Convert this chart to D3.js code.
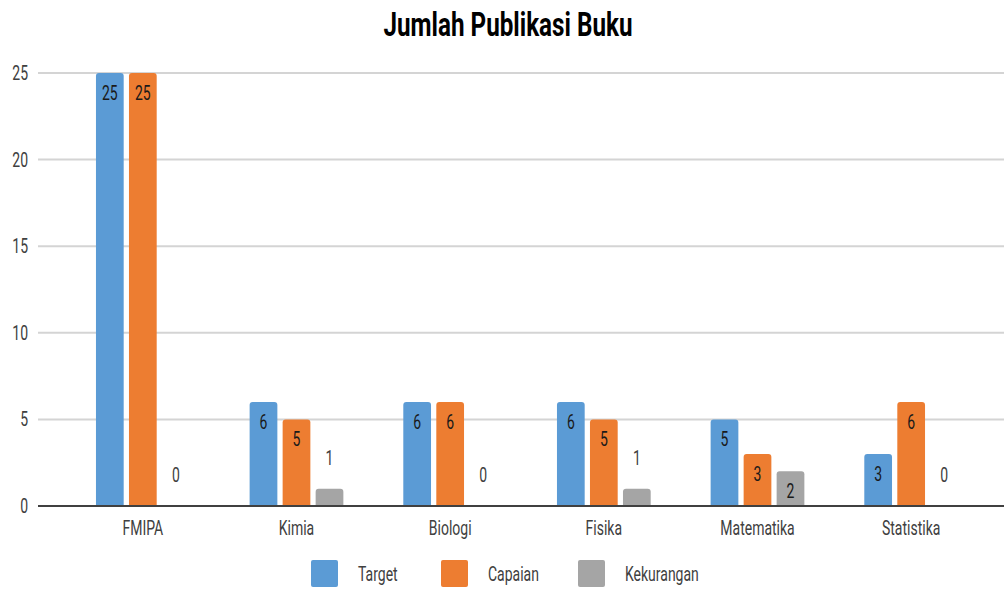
<!DOCTYPE html>
<head>
  <meta charset="utf-8">
  <script src="https://cdn.jsdelivr.net/npm/d3@7"></script>
  <style>
    body { margin:0; background:#fff; }
    text { font-family: Roboto, "DejaVu Sans", sans-serif; }
  </style>
</head>
<body>
<script>
var categories = ["FMIPA", "Kimia", "Biologi", "Fisika", "Matematika", "Statistika"];
var series = ["Target", "Capaian", "Kekurangan"];
var target = [25, 6, 6, 6, 5, 3];
var capaian = [25, 5, 6, 5, 3, 6];
var kekurangan = [0, 1, 0, 1, 2, 0];
var yTicks = [0, 5, 10, 15, 20, 25];
var colors = ["#5b9bd5", "#ed7d31", "#a5a5a5"];

var width = 1004, height = 590;
var svg = d3.select("body").append("svg")
    .attr("width", width).attr("height", height);

var values = [target, capaian, kekurangan];
var squeeze = 0.7;

// narrow text helper (the original uses a condensed face)
function ntext(parent, x, y, str, size, fill, anchor) {
  return parent.append("text")
    .attr("transform", "translate(" + x + "," + y + ") scale(" + squeeze + ",1)")
    .attr("text-anchor", anchor || "middle")
    .attr("font-size", size).attr("fill", fill).text(str);
}

var x = d3.scaleBand().domain(categories).range([66, 988]).paddingInner(0.39).paddingOuter(0.195);
var xs = d3.scaleBand().domain(series).range([0, x.bandwidth()]).paddingInner(0.16);
var y = d3.scaleLinear().domain([0, 25]).range([506, 73]);

// title
var title = svg.append("text")
  .attr("text-anchor", "middle").attr("font-size", 34).attr("font-weight", "bold")
  .attr("fill", "#000").text("Jumlah Publikasi Buku");
var tw = title.node().getComputedTextLength();
title.attr("transform", "translate(508,36) scale(" + (249 / tw) + ",1)");

// grid
svg.selectAll(".grid").data(yTicks.slice(1)).enter().append("line")
  .attr("x1", 38).attr("x2", 1004)
  .attr("y1", d => y(d)).attr("y2", d => y(d))
  .attr("stroke", "#d4d4d4").attr("stroke-width", 2);

yTicks.forEach(function(t) {
  ntext(svg, 28, y(t) + 7, t, 20, "#404040", "end");
});

// bars
function barPath(x0, w, y0, y1) {
  if (y1 - y0 <= 0) return "";
  var r = Math.min(3, (y1 - y0) / 2);
  return "M" + x0 + "," + y1 + "V" + (y0 + r) + "Q" + x0 + "," + y0 + " " + (x0 + r) + "," + y0 +
    "H" + (x0 + w - r) + "Q" + (x0 + w) + "," + y0 + " " + (x0 + w) + "," + (y0 + r) + "V" + y1 + "Z";
}

categories.forEach(function(c, i) {
  var g = svg.append("g").attr("transform", "translate(" + x(c) + ",0)");
  series.forEach(function(s, si) {
    var v = values[si][i];
    g.append("path")
      .attr("d", barPath(xs(s), xs.bandwidth(), y(v), y(0)))
      .attr("fill", colors[si]);
    var inside = v >= 2;
    ntext(g, xs(s) + xs.bandwidth() / 2, inside ? y(v) + 27 : y(v) - 24, v, 20,
      inside ? "#1a1a1a" : "#404040");
  });
});

// zero axis
svg.append("line").attr("x1", 38).attr("x2", 1004)
  .attr("y1", y(0)).attr("y2", y(0))
  .attr("stroke", "#404040").attr("stroke-width", 2);

categories.forEach(function(c) {
  ntext(svg, x(c) + x.bandwidth() / 2, 535, c, 20, "#404040");
});

// legend
var legX = [311, 441, 578];
series.forEach(function(s, si) {
  svg.append("rect").attr("x", legX[si]).attr("y", 560).attr("width", 27).attr("height", 27)
    .attr("rx", 2).attr("fill", colors[si]);
  ntext(svg, legX[si] + 47, 581, s, 20, "#404040", "start");
});
</script>
</body>
